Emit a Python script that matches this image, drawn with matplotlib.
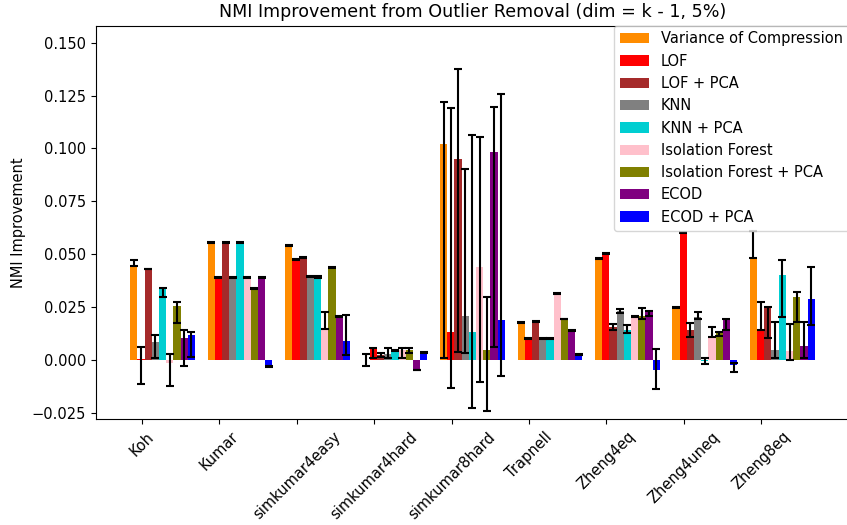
import numpy as np
import matplotlib
matplotlib.use('Agg')
from matplotlib import pyplot as plt

plt.rcParams['font.size'] = 10.5

datasets = ['Koh', 'Kumar', 'simkumar4easy', 'simkumar4hard', 'simkumar8hard',
            'Trapnell', 'Zheng4eq', 'Zheng4uneq', 'Zheng8eq']

metodos = ['Variance of Compression', 'LOF', 'LOF + PCA', 'KNN', 'KNN + PCA',
           'Isolation Forest', 'Isolation Forest + PCA', 'ECOD', 'ECOD + PCA']

cores = ['darkorange', 'red', 'brown', 'gray', 'darkturquoise',
         'pink', 'olive', 'purple', 'blue']

# ganho médio de NMI (uma linha por método, uma coluna por dataset)
ganho = [
    [0.0449, 0.0555, 0.0543, 0.0000, 0.1021, 0.0178, 0.0480, 0.0249, 0.0484],
    [0.0005, 0.0389, 0.0476, 0.0055, 0.0131, 0.0102, 0.0504, 0.0603, 0.0142],
    [0.0430, 0.0555, 0.0485, 0.0024, 0.0950, 0.0184, 0.0158, 0.0142, 0.0249],
    [0.0087, 0.0389, 0.0394, 0.0030, 0.0206, 0.0102, 0.0232, 0.0205, 0.0047],
    [0.0339, 0.0555, 0.0394, 0.0047, 0.0131, 0.0102, 0.0142, -0.0005, 0.0402],
    [-0.0013, 0.0389, 0.0150, 0.0047, 0.0440, 0.0315, 0.0205, 0.0110, 0.0043],
    [0.0257, 0.0339, 0.0436, 0.0047, 0.0046, 0.0194, 0.0208, 0.0126, 0.0296],
    [0.0106, 0.0389, 0.0205, -0.0047, 0.0985, 0.0140, 0.0225, 0.0189, 0.0066],
    [0.0118, -0.0031, 0.0090, 0.0035, 0.0191, 0.0027, -0.0047, -0.0024, 0.0290],
]

# limites inferior e superior das barras de erro
limite_inf = [
    [0.0446, 0.0553, 0.0541, -0.0027, 0.0011, 0.0176, 0.0478, 0.0246, 0.0484],
    [-0.0115, 0.0387, 0.0474, 0.0011, -0.0131, 0.0100, 0.0502, 0.0601, 0.0142],
    [0.0428, 0.0553, 0.0483, 0.0016, 0.0039, 0.0182, 0.0142, 0.0110, 0.0102],
    [0.0011, 0.0387, 0.0392, 0.0008, 0.0035, 0.0100, 0.0221, 0.0194, 0.0008],
    [0.0296, 0.0553, 0.0389, 0.0045, -0.0225, 0.0100, 0.0128, -0.0020, 0.0205],
    [-0.0121, 0.0387, 0.0145, 0.0011, -0.0104, 0.0313, 0.0203, 0.0110, 0.0000],
    [0.0173, 0.0337, 0.0434, 0.0031, -0.0239, 0.0192, 0.0194, 0.0113, 0.0178],
    [-0.0027, 0.0387, 0.0203, -0.0049, 0.0063, 0.0138, 0.0208, 0.0142, 0.0008],
    [0.0016, -0.0033, 0.0024, 0.0033, -0.0074, 0.0025, -0.0139, -0.0055, 0.0165],
]

limite_sup = [
    [0.0473, 0.0557, 0.0545, 0.0027, 0.1219, 0.0180, 0.0482, 0.0252, 0.0610],
    [0.0063, 0.0391, 0.0478, 0.0058, 0.1189, 0.0104, 0.0506, 0.0605, 0.0273],
    [0.0432, 0.0557, 0.0487, 0.0032, 0.1374, 0.0186, 0.0170, 0.0173, 0.0251],
    [0.0118, 0.0391, 0.0396, 0.0055, 0.0903, 0.0104, 0.0243, 0.0225, 0.0178],
    [0.0342, 0.0557, 0.0398, 0.0049, 0.1065, 0.0104, 0.0165, 0.0011, 0.0473],
    [0.0027, 0.0391, 0.0228, 0.0055, 0.1054, 0.0317, 0.0207, 0.0154, 0.0170],
    [0.0276, 0.0341, 0.0438, 0.0055, 0.0296, 0.0196, 0.0244, 0.0132, 0.0323],
    [0.0142, 0.0391, 0.0207, -0.0045, 0.1194, 0.0142, 0.0233, 0.0194, 0.0178],
    [0.0134, -0.0029, 0.0214, 0.0037, 0.1259, 0.0029, 0.0050, -0.0013, 0.0441],
]

fig = plt.figure(figsize=(8.47, 5.25), dpi=100)
ax = fig.add_axes([0.1133, 0.201, 0.889, 0.7504])

x = np.arange(len(datasets))
largura = 0.093

for i, (nome, cor) in enumerate(zip(metodos, cores)):
    y = np.array(ganho[i])
    erro = [y - np.array(limite_inf[i]), np.array(limite_sup[i]) - y]
    ax.bar(x + (i - 1.1) * largura, y, largura, color=cor, label=nome,
           yerr=erro, capsize=2.8, error_kw=dict(ecolor='black', elinewidth=1.5, capthick=1.5))

ax.set_xticks(x)
ax.set_xticklabels(datasets, rotation=45)
ax.set_ylim(-0.0281, 0.1581)
ax.set_ylabel('NMI Improvement')
ax.set_title('NMI Improvement from Outlier Removal (dim = k - 1, 5%)')
ax.legend(loc='upper right', bbox_to_anchor=(1, 1), borderaxespad=0)

fig.savefig('out.png', dpi=100)
